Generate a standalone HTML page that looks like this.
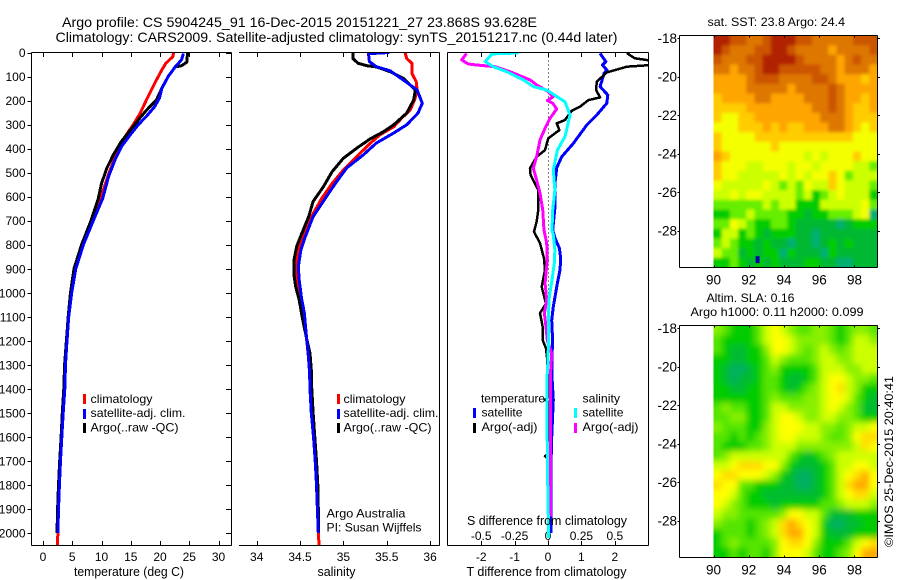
<!DOCTYPE html>
<html>
<head>
<meta charset="utf-8">
<title>Argo profile</title>
<style>
html,body{margin:0;padding:0;background:#fff;}
svg{display:block;}
text{font-family:"Liberation Sans",sans-serif;font-size:12px;fill:#000;}
.title{font-size:14px;}
.lab{font-size:12.5px;}
.maplab{font-size:13.5px;}
</style>
</head>
<body>
<svg id="chart" xmlns="http://www.w3.org/2000/svg" width="900" height="580" viewBox="0 0 900 580">
<defs>
<clipPath id="clip-t"><rect x="32" y="53" width="199" height="493"/></clipPath>
<clipPath id="clip-s"><rect x="239" y="53" width="200" height="493"/></clipPath>
<clipPath id="clip-d"><rect x="448" y="53" width="200" height="493"/></clipPath>
<clipPath id="clip-m1"><rect x="713.5" y="36" width="164" height="231.5"/></clipPath>
<clipPath id="clip-m2"><rect x="713.5" y="326" width="164" height="231.5"/></clipPath>
<filter id="blur-m1" filterUnits="userSpaceOnUse" x="680" y="0" width="220" height="300"><feGaussianBlur stdDeviation="1.6"/></filter>
<filter id="blur-m2" filterUnits="userSpaceOnUse" x="680" y="290" width="220" height="300"><feGaussianBlur stdDeviation="3.2"/></filter>
</defs>

<text class="title" x="62" y="27" textLength="475" lengthAdjust="spacingAndGlyphs">Argo profile: CS 5904245_91 16-Dec-2015 20151221_27 23.868S 93.628E</text>
<text class="title" x="55.5" y="42" textLength="562" lengthAdjust="spacingAndGlyphs">Climatology: CARS2009. Satellite-adjusted climatology: synTS_20151217.nc (0.44d later)</text>

<g id="heat-sst"></g>
<g id="heat-sla"></g>
<g id="axes"></g>
<g id="series-t" clip-path="url(#clip-t)"></g>
<g id="series-s" clip-path="url(#clip-s)"></g>
<g id="series-d" clip-path="url(#clip-d)"></g>

<text class="lab" x="74" y="576" textLength="110" lengthAdjust="spacingAndGlyphs">temperature (deg C)</text>
<text class="lab" x="317.5" y="576" textLength="38" lengthAdjust="spacingAndGlyphs">salinity</text>
<text class="lab" x="466.5" y="576" textLength="160" lengthAdjust="spacingAndGlyphs">T difference from climatology</text>
<text class="lab" x="467" y="525" textLength="160" lengthAdjust="spacingAndGlyphs">S difference from climatology</text>

<g>
<rect x="83" y="394" width="3" height="10" fill="#f00"/>
<text x="90.5" y="403" textLength="62" lengthAdjust="spacingAndGlyphs">climatology</text>
<rect x="83" y="409" width="3" height="10" fill="#00f"/>
<text x="90.5" y="417" textLength="95" lengthAdjust="spacingAndGlyphs">satellite-adj. clim.</text>
<rect x="83" y="423" width="3" height="10" fill="#000"/>
<text x="90.5" y="431.5" textLength="88" lengthAdjust="spacingAndGlyphs">Argo(..raw -QC)</text>
</g>
<g>
<rect x="337" y="394" width="3" height="10" fill="#f00"/>
<text x="343.5" y="403" textLength="62" lengthAdjust="spacingAndGlyphs">climatology</text>
<rect x="337" y="409" width="3" height="10" fill="#00f"/>
<text x="343.5" y="417" textLength="95" lengthAdjust="spacingAndGlyphs">satellite-adj. clim.</text>
<rect x="337" y="423" width="3" height="10" fill="#000"/>
<text x="343.5" y="431.5" textLength="88" lengthAdjust="spacingAndGlyphs">Argo(..raw -QC)</text>
</g>
<text x="326.5" y="517.5" textLength="79" lengthAdjust="spacingAndGlyphs">Argo Australia</text>
<text x="326.5" y="531.5" textLength="95" lengthAdjust="spacingAndGlyphs">PI: Susan Wijffels</text>

<g>
<text x="481" y="402.5" textLength="64" lengthAdjust="spacingAndGlyphs">temperature</text>
<text x="582.5" y="402.5" textLength="37.5" lengthAdjust="spacingAndGlyphs">salinity</text>
<rect x="473" y="408" width="3" height="10" fill="#00f"/>
<text x="481.5" y="416.5" textLength="41" lengthAdjust="spacingAndGlyphs">satellite</text>
<rect x="473" y="423" width="3" height="10" fill="#000"/>
<text x="481.5" y="431" textLength="56" lengthAdjust="spacingAndGlyphs">Argo(-adj)</text>
<rect x="574" y="408" width="3" height="10" fill="#0ff"/>
<text x="582.5" y="416.5" textLength="41" lengthAdjust="spacingAndGlyphs">satellite</text>
<rect x="574" y="423" width="3" height="10" fill="#f0f"/>
<text x="582.5" y="431" textLength="56" lengthAdjust="spacingAndGlyphs">Argo(-adj)</text>
</g>

<text x="707.5" y="26" textLength="137.5" lengthAdjust="spacingAndGlyphs">sat. SST: 23.8 Argo: 24.4</text>
<text x="706.5" y="302" textLength="88" lengthAdjust="spacingAndGlyphs">Altim. SLA: 0.16</text>
<text x="690.5" y="316" textLength="173" lengthAdjust="spacingAndGlyphs">Argo h1000: 0.11 h2000: 0.099</text>
<text transform="translate(893,547) rotate(-90)" x="0" y="0" textLength="171" lengthAdjust="spacingAndGlyphs">©IMOS 25-Dec-2015 20:40:41</text>
</svg>

<script>
// ---- axis tick data ----
const depthTicks = [0,100,200,300,400,500,600,700,800,900,1000,1100,1200,1300,1400,1500,1600,1700,1800,1900,2000];
const tempTicks = [0,5,10,15,20,25,30];
const salTicks = [34,34.5,35,35.5,36];
const salTickLabels = ['34','34.5','35','35.5','36'];
const tDiffTicks = [-2,-1,0,1,2];
const tDiffLabels = ['-2','-1','0','1','2'];
const sDiffTicks = [-0.5,-0.25,0,0.25,0.5];
const sDiffLabels = ['-0.5','-0.25','0','0.25','0.5'];
const lonTicks = [90,92,94,96,98];
const latTicks = [-18,-20,-22,-24,-26,-28];

// ---- temperature profiles ----
const tempClimDepth = [0,17,45,73,114,197,253,301,351,420,490,573,700,800,900,1000,1100,1200,1300,1400,1500,1600,1700,1800,1900,2000,2050];
const tempClimValues = [22.3,22.2,21,20.3,19.4,17.7,16.6,15.4,14,12.6,11.45,10.3,8.4,6.8,5.5,4.8,4.4,4.1,3.8,3.7,3.45,3.22,3,2.8,2.65,2.55,2.45];
const tempArgoDepth = [0,40,55,60,100,145,197,240,280,315,370,427,482,545,607,700,800,900,1000,1100,1200,1300,1400,1500,1600,1700,1800,1900,2000];
const tempArgoValues = [24.7,24.6,23.7,22.6,21.4,20.4,19.4,17.7,16.3,15.2,13.4,12,10.9,10,9.45,8.2,6.6,5.3,4.7,4.3,4,3.7,3.55,3.3,3.1,2.85,2.65,2.5,2.4];
const tempSatDepth = [4,30,60,100,150,190,225,265,300,343,392,447,517,607,700,800,900,1000,1100,1200,1300,1400,1500,1600,1700,1800,1900,2000];
const tempSatValues = [24,23.7,22.6,21.4,20.3,19.9,19.1,17.7,16.3,14.9,13.4,12.3,11.2,10.2,8.6,6.9,5.6,4.9,4.4,4.1,3.85,3.72,3.45,3.22,3,2.8,2.65,2.55];

// ---- salinity profiles ----
const salClimDepth = [0,25,45,87,121,156,198,239,274,309,343,378,434,489,545,607,697,753,815,877,926,975,1030,1085,1142,1209,1280,1350,1500,1600,1700,1800,1900,2000,2050];
const salClimValues = [35.71,35.73,35.79,35.79,35.84,35.85,35.82,35.77,35.67,35.58,35.42,35.31,35.15,35,34.87,34.75,34.61,34.55,34.48,34.46,34.46,34.48,34.51,34.54,34.56,34.58,34.6,34.615,34.635,34.66,34.676,34.69,34.7,34.71,34.72];
const salArgoDepth = [2,25,45,55,60,80,107,156,198,252,301,330,359,399,440,496,558,620,683,753,808,863,926,975,1030,1092,1147,1197,1252,1322,1363,1500,1600,1700,1800,1900,2000];
const salArgoValues = [35.11,35.11,35.17,35.27,35.38,35.54,35.69,35.83,35.81,35.73,35.58,35.46,35.31,35.15,35,34.87,34.77,34.65,34.6,34.52,34.46,34.43,34.43,34.45,34.49,34.52,34.55,34.58,34.615,34.63,34.63,34.65,34.67,34.69,34.705,34.71,34.715];
const salSatDepth = [0,5,38,59,76,114,156,211,252,301,335,377,426,480,538,607,683,767,822,891,947,1030,1085,1168,1238,1334,1400,1500,1600,1700,1800,1900,2000];
const salSatValues = [35.53,35.29,35.3,35.38,35.54,35.69,35.85,35.91,35.86,35.73,35.58,35.38,35.23,35.04,34.92,34.79,34.65,34.56,34.51,34.48,34.49,34.52,34.55,34.57,34.59,34.61,34.615,34.63,34.655,34.675,34.69,34.7,34.71];

// ---- differences from climatology ----
const tDiffSatDepth = [4,38,52,73,87,142,177,211,260,302,378,434,480,543,642,739,772,815,857,906,960,1017,1058,1114,1170,1224,1308,1350,1446,1640,1890,2000];
const tDiffSatValues = [1.56,1.73,1.63,1.76,1.68,1.56,1.79,1.76,1.46,1.16,0.76,0.41,0.26,0.21,0.21,0.14,0.21,0.34,0.38,0.36,0.28,0.21,0.16,0.11,0.13,0.13,0.12,0.12,0.16,0.1,0.09,0.09];
const tDiffArgoDepth = [2,24,34,52,59,83,121,156,187,198,225,243,281,295,323,357,406,434,482,510,572,655,704,746,793,857,906,975,1045,1085,1142,1197,1231,1280,1350,1435,1446,1452,1670,1680,1690,1890,1980];
const tDiffArgoValues = [2.36,2.6,3.1,3.1,2.36,1.76,1.46,1.44,1.56,1.21,0.96,0.71,0.51,0.26,0.34,0.01,-0.09,-0.34,-0.54,-0.52,-0.29,-0.29,-0.34,-0.42,-0.24,-0.12,-0.09,-0.19,-0.06,-0.24,-0.16,-0.16,-0.06,-0.02,0,0,-0.09,0,0,-0.09,0,0,0];
const sDiffSatDepth = [2,6,38,59,80,114,142,156,205,260,350,406,489,572,655,739,760,822,877,947,1017,1085,1170,1280,1350,1700,2020];
const sDiffSatValues = [-0.222,-0.42,-0.47,-0.41,-0.31,-0.185,-0.11,-0.01,0.127,0.165,0.127,0.07,0.04,0.052,0.035,0.03,0.04,0.052,0.047,0.03,0.01,0.003,0.005,0,-0.007,-0.005,0.005];
const sDiffArgoDepth = [4,31,48,52,59,80,114,135,163,184,200,211,235,274,315,364,434,482,530,586,655,739,793,864,919,960,1030,1085,1142,1197,1253,1322,1350,1446,1700,1930];
const sDiffArgoValues = [-0.61,-0.646,-0.597,-0.534,-0.397,-0.284,-0.135,-0.085,0.002,0.04,-0.005,0.035,0.065,0.015,-0.022,-0.06,-0.085,-0.11,-0.085,-0.06,-0.04,-0.03,-0.01,-0.005,-0.015,-0.022,-0.01,-0.027,-0.015,-0.005,0.028,0.02,0.018,0.018,0.02,0.018];

// ---- SST map (colour level per cell, north to south) ----
const sstRows = [
[10,10,9,9,8,8,9,10,10,10,9,9,8,8,8,8,8,9,9,9],
[10,9,8,8,8,9,9,10,10,9,8,8,8,8,7,8,8,8,8,9],
[9,8,8,8,9,9,10,10,10,10,9,8,8,8,8,7,8,9,8,8],
[8,8,7,8,8,9,10,10,9,9,9,9,9,8,8,7,8,8,8,7],
[7,7,7,7,8,9,9,9,8,8,8,8,9,9,8,7,7,7,6,7],
[7,7,7,7,8,8,8,8,8,7,8,8,8,8,9,8,7,7,7,7],
[6,7,7,7,7,8,8,7,7,7,7,8,8,8,9,8,7,7,6,7],
[6,6,6,6,7,7,7,7,7,7,7,7,8,8,9,8,7,6,6,7],
[6,5,5,6,6,7,7,7,7,7,7,7,7,8,8,8,7,6,6,6],
[5,5,5,6,6,6,7,6,7,6,6,7,7,7,8,8,7,6,5,6],
[6,5,5,5,5,6,6,6,6,6,6,6,6,6,6,6,6,5,5,5],
[6,5,5,5,5,5,5,6,5,5,5,5,5,5,5,5,5,5,5,5],
[7,6,5,5,5,5,5,5,5,5,5,4,5,4,5,5,5,6,5,5],
[6,5,5,5,4,4,5,5,5,4,5,5,4,5,5,5,5,4,4,3],
[6,5,5,4,4,4,4,4,5,4,5,4,5,5,6,5,3,4,4,4],
[5,4,4,4,4,4,5,4,3,4,3,5,4,4,6,5,4,4,4,3],
[4,4,5,4,5,5,4,4,4,4,3,4,2,3,4,5,4,4,4,2],
[3,3,3,3,3,3,4,3,4,4,2,2,2,4,4,4,4,4,5,3],
[2,2,3,3,4,3,3,3,3,2,2,1,2,2,3,3,3,4,5,0],
[3,3,5,4,3,2,2,3,3,2,1,1,1,1,1,0,1,2,2,2],
[2,4,4,2,3,2,1,2,2,2,1,1,0,1,1,1,1,1,1,1],
[3,4,3,2,2,1,2,1,1,0,1,1,0,1,2,1,2,1,1,1],
[4,3,3,1,2,1,2,2,0,2,1,1,1,0,2,1,1,1,1,1],
[2,2,3,2,1,2,1,2,1,1,1,2,2,1,1,0,0,1,1,1]
];
// cold-water spot near the bottom of the SST map: [longitude, latitude]
const sstColdSpot = [92.5,-29.5];

// ---- SLA map (colour level per cell, north to south) ----
const slaRows = [
[4,3,2,2,2,3,5,6,5,4,3,3,4,4,3,2,3,4,4,3],
[3,2,2,2,2,3,5,6,6,5,4,4,4,4,3,2,3,5,5,4],
[3,2,1,1,2,2,4,6,6,5,4,3,4,5,4,3,4,5,5,5],
[2,2,1,1,2,2,3,5,4,3,3,3,4,5,5,4,4,5,5,5],
[2,1,0,0,1,2,3,4,2,2,2,2,3,5,5,5,4,4,5,5],
[2,1,0,1,1,2,3,3,2,1,1,2,3,5,6,6,5,4,4,3],
[2,2,1,1,2,2,3,3,2,1,2,3,4,5,6,7,5,4,2,2],
[2,2,2,2,2,2,3,4,3,3,3,4,4,5,6,6,5,3,2,1],
[3,4,3,3,2,2,3,5,5,4,4,4,4,5,6,5,4,3,1,1],
[3,3,4,4,2,2,3,5,6,6,5,4,4,5,5,4,4,3,2,2],
[4,3,3,3,2,2,4,5,6,6,6,5,5,4,4,3,4,5,5,6],
[3,3,2,3,2,3,4,5,6,6,5,5,5,4,3,3,4,6,7,7],
[3,2,2,2,3,3,4,5,5,5,4,4,4,4,4,4,4,5,7,6],
[3,4,5,5,5,5,5,5,5,3,2,1,2,3,4,5,5,5,5,5],
[5,5,6,7,7,7,6,6,4,2,1,1,1,2,3,5,5,6,6,5],
[6,7,7,6,6,6,5,4,2,1,0,0,1,2,3,5,6,7,8,6],
[7,6,6,3,3,2,2,2,1,1,0,0,1,2,3,5,7,8,8,6],
[6,6,5,3,2,2,1,1,1,1,1,1,1,2,3,5,6,7,7,5],
[6,5,4,3,2,2,2,1,2,2,2,2,2,3,3,4,5,5,5,4],
[5,4,4,3,3,3,3,3,4,6,6,5,5,3,1,1,1,2,2,2],
[4,3,3,3,2,3,4,5,7,8,7,6,5,2,0,0,1,1,2,2],
[2,3,3,3,2,3,4,5,7,8,8,6,5,2,1,1,1,2,2,2],
[2,3,4,3,3,3,3,4,6,7,7,6,4,2,2,2,3,5,6,7],
[2,2,3,2,3,3,2,4,6,6,6,5,3,2,2,3,4,6,8,8]
];

const SVGNS = 'http://www.w3.org/2000/svg';
const sstPalette = ['#00b070','#00b830','#00cc00','#66ee00','#ccff00','#f4ff00','#ffcc00','#ffa500','#dd7700','#cc5500','#b02000'];
const slaPalette = ['#00b060','#00bb30','#00cc00','#55e500','#88f000','#ccff00','#ffff00','#ffdd00','#ffaa00'];

// axis functions
function yDepth(d){ return 52.5 + 0.2403*d; }
function xTemp(t){ return 43 + 5.85*t; }
function xSal(s){ return 256.7 + 86.7*(s-34); }
function xTDiff(t){ return 548 + 33.4*t; }
function xSDiff(s){ return 548 + 133.6*s; }
function xLon(l){ return 713.5 + 17.62*(l-90); }
function yLatSst(l){ return 38.3 + 19.25*(-18-l); }
function yLatSla(l){ return 328.3 + 19.25*(-18-l); }

const axesG = document.getElementById('axes');

function addLine(x1,y1,x2,y2,name){
  const el = document.createElementNS(SVGNS,'line');
  el.setAttribute('x1',x1);
  el.setAttribute('y1',y1);
  el.setAttribute('x2',x2);
  el.setAttribute('y2',y2);
  el.setAttribute('stroke','#000');
  el.setAttribute('stroke-width','1');
  el.setAttribute('shape-rendering','crispEdges');
  
  
  axesG.appendChild(el);
  return el;
}
function addLabel(x,y,str,anchor,name,cls){
  const el = document.createElementNS(SVGNS,'text');
  el.setAttribute('x',x);
  el.setAttribute('y',y);
  el.setAttribute('text-anchor',anchor);
  if(cls){ el.setAttribute('class',cls); }
  
  
  el.textContent = str;
  axesG.appendChild(el);
}
function addProfile(groupId,xFn,depths,values,color,width,name){
  const pts = depths.map(function(d,i){ return xFn(values[i]).toFixed(1)+','+yDepth(d).toFixed(1); }).join(' ');
  const el = document.createElementNS(SVGNS,'polyline');
  el.setAttribute('points',pts);
  el.setAttribute('fill','none');
  el.setAttribute('stroke',color);
  el.setAttribute('stroke-width',width);
  el.setAttribute('stroke-linejoin','round');
  el.setAttribute('shape-rendering','crispEdges');
  
  
  document.getElementById(groupId).appendChild(el);
}

// panel frames
[[31.5,231.5,'temperature'],[447.5,648.5,'difference']].forEach(function(p){
  addLine(p[0],52.5,p[1],52.5,p[2]+'-top-axis');
  addLine(p[0],545.5,p[1],545.5,p[2]+'-bottom-axis');
  addLine(p[0],52.5,p[0],545.5,p[2]+'-left-axis');
  addLine(p[1],52.5,p[1],545.5,p[2]+'-right-axis');
});
addLine(239,52.5,439.5,52.5,'salinity-top-axis');
addLine(239,545.5,439.5,545.5,'salinity-bottom-axis');
addLine(439.5,52.5,439.5,545.5,'salinity-right-axis');

// depth ticks
depthTicks.forEach(function(d){
  const y = Math.round(yDepth(d))+0.5;
  addLine(226,y,231.5,y,'depth-tick');
  addLine(27.5,y,31.5,y,'depth-tick-left');
  addLabel(25.5,yDepth(d)+4.5,String(d),'end','depth-tick-label');
});
// x ticks
tempTicks.forEach(function(t){
  const x = Math.round(xTemp(t))+0.5;
  addLine(x,52.5,x,57,'temperature-top-tick');
  addLine(x,541,x,545.5,'temperature-bottom-tick');
  addLabel(xTemp(t),561,String(t),'middle','temperature-tick-label');
});
salTicks.forEach(function(s,i){
  const x = Math.round(xSal(s))+0.5;
  addLine(x,52.5,x,57,'salinity-top-tick');
  addLine(x,541,x,545.5,'salinity-bottom-tick');
  addLabel(xSal(s),561,salTickLabels[i],'middle','salinity-tick-label');
});
tDiffTicks.forEach(function(t,i){
  const x = Math.round(xTDiff(t))+0.5;
  addLine(x,52.5,x,57,'difference-top-tick');
  addLine(x,541,x,545.5,'difference-bottom-tick');
  addLabel(xTDiff(t),561,tDiffLabels[i],'middle','t-difference-tick-label');
});
sDiffTicks.forEach(function(s,i){
  addLabel(xSDiff(s),540,sDiffLabels[i],'middle','s-difference-tick-label');
});
// zero line
const zeroLine = addLine(xTDiff(0)+0.5,52.5,xTDiff(0)+0.5,545.5,'zero-difference-line');
zeroLine.setAttribute('stroke-dasharray','1 3');

// profiles
addProfile('series-t',xTemp,tempClimDepth,tempClimValues,'#f00',3,'temperature-climatology-line');
addProfile('series-t',xTemp,tempArgoDepth,tempArgoValues,'#000',3,'temperature-argo-line');
addProfile('series-t',xTemp,tempSatDepth,tempSatValues,'#00f',3,'temperature-satellite-line');
addProfile('series-s',xSal,salClimDepth,salClimValues,'#f00',3,'salinity-climatology-line');
addProfile('series-s',xSal,salArgoDepth,salArgoValues,'#000',3,'salinity-argo-line');
addProfile('series-s',xSal,salSatDepth,salSatValues,'#00f',3,'salinity-satellite-line');
addProfile('series-d',xTDiff,tDiffSatDepth,tDiffSatValues,'#00f',3,'t-difference-satellite-line');
addProfile('series-d',xTDiff,tDiffArgoDepth,tDiffArgoValues,'#000',2.5,'t-difference-argo-line');
addProfile('series-d',xSDiff,sDiffArgoDepth,sDiffArgoValues,'#f0f',3,'s-difference-argo-line');
addProfile('series-d',xSDiff,sDiffSatDepth,sDiffSatValues,'#0ff',3,'s-difference-satellite-line');

// heat maps
function drawHeat(groupId,rows,palette,top,bottom,clipId,blurId,cellName){
  const outer = document.getElementById(groupId);
  outer.setAttribute('clip-path','url(#'+clipId+')');
  const inner = document.createElementNS(SVGNS,'g');
  inner.setAttribute('filter','url(#'+blurId+')');
  outer.appendChild(inner);
  const left = xLon(90), right = 877.5;
  const cw = (right-left)/rows[0].length, ch = (bottom-top)/rows.length;
  rows.forEach(function(row,r){
    row.forEach(function(v,c){
      const lv = Math.max(0,Math.min(palette.length-1,Math.round(v)));
      const el = document.createElementNS(SVGNS,'rect');
      let x = left+c*cw, y = top+r*ch, w = cw+0.6, h = ch+0.6;
      if(c===0){ x -= 14; w += 14; }
      if(c===row.length-1){ w += 14; }
      if(r===0){ y -= 14; h += 14; }
      if(r===rows.length-1){ h += 14; }
      el.setAttribute('x',x.toFixed(1));
      el.setAttribute('y',y.toFixed(1));
      el.setAttribute('width',w.toFixed(1));
      el.setAttribute('height',h.toFixed(1));
      el.setAttribute('fill',palette[lv]);
      
      
      inner.appendChild(el);
    });
  });
}
drawHeat('heat-sst',sstRows,sstPalette,35.5,267.5,'clip-m1','blur-m1','sst-cell');
drawHeat('heat-sla',slaRows,slaPalette,325.5,557.5,'clip-m2','blur-m2','sla-cell');

// cold spot
const coldSpot = document.createElementNS(SVGNS,'rect');
coldSpot.setAttribute('x',xLon(sstColdSpot[0])-2);
coldSpot.setAttribute('y',yLatSst(sstColdSpot[1])-3.5);
coldSpot.setAttribute('width','4');
coldSpot.setAttribute('height','7');
coldSpot.setAttribute('fill','#0000aa');


document.getElementById('heat-sst').appendChild(coldSpot);

// map frames and ticks
function drawMapFrame(top,bottom,yFn,prefix){
  addLine(679.5,top,877.5,top,prefix+'-top-axis');
  addLine(679.5,bottom,877.5,bottom,prefix+'-bottom-axis');
  addLine(679.5,top,679.5,bottom,prefix+'-left-axis');
  addLine(877.5,top,877.5,bottom,prefix+'-right-axis');
  lonTicks.forEach(function(l){
    const x = Math.round(xLon(l))+0.5;
    addLine(x,top,x,top+2,prefix+'-top-tick');
    addLine(x,bottom-2,x,bottom,prefix+'-bottom-tick');
    addLabel(xLon(l),bottom+17,String(l),'middle',prefix+'-longitude-label','maplab');
  });
  latTicks.forEach(function(l){
    const y = Math.round(yFn(l))+0.5;
    addLine(877.5,y,880,y,prefix+'-right-tick');
    addLine(677.5,y,679.5,y,prefix+'-left-tick');
    addLabel(677,yFn(l)+4.5,String(l),'end',prefix+'-latitude-label','maplab');
  });
}
drawMapFrame(35.5,267.5,yLatSst,'sst');
drawMapFrame(325.5,557.5,yLatSla,'sla');
</script>
</body>
</html>
